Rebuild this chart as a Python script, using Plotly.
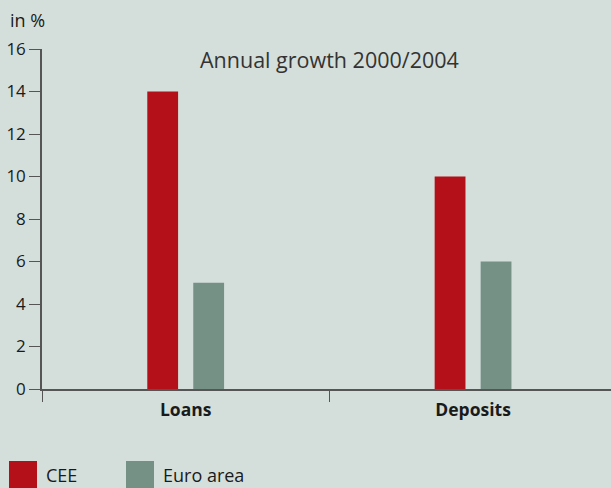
import plotly.graph_objects as go

categories = ["Loans", "Deposits"]
series_names = ["CEE", "Euro area"]
cee_values = [14, 10]
euro_values = [5, 6]
series_colors = ["#b31019", "#759186"]
y_ticks = [0, 2, 4, 6, 8, 10, 12, 14, 16]

BG = "#d4dfdb"
FONT = "Open Sans, Noto Sans, sans-serif"
TEXT = "#1a1a1a"

fig = go.Figure()
for name, vals, col in zip(series_names, [cee_values, euro_values], series_colors):
    fig.add_trace(go.Bar(x=categories, y=vals, name=name, marker=dict(color=col, line=dict(width=0)),
                         showlegend=False))

fig.update_layout(
    width=611, height=488,
    margin=dict(l=42, r=0, t=49, b=99),
    paper_bgcolor=BG, plot_bgcolor=BG,
    barmode="group", bargap=0.68, bargroupgap=0.33,
    font=dict(family=FONT, color=TEXT, size=16),
)
fig.update_xaxes(
    range=[-0.5, 1.48],
    showline=True, linecolor="#555555", linewidth=1.5,
    ticks="outside", tickson="boundaries", ticklen=11, tickcolor="#555555", tickwidth=1,
    tickfont=dict(family=FONT, size=17.5, color=TEXT, weight="bold"),
    ticklabelstandoff=4,
    showgrid=False, zeroline=False,
)
fig.update_yaxes(
    range=[0, 16], tickvals=y_ticks,
    showline=True, linecolor="#555555", linewidth=1.5,
    ticks="outside", ticklen=11, tickcolor="#555555", tickwidth=1,
    tickfont=dict(family=FONT, size=17, color=TEXT),
    showgrid=False, zeroline=False,
)

fig.add_annotation(text="in %", xref="paper", yref="paper", x=(8 - 42) / 569, y=(389 - 20) / 340,
                   xanchor="left", yanchor="middle", showarrow=False,
                   font=dict(family=FONT, size=18, color=TEXT))
fig.add_annotation(text="Annual growth 2000/2004", xref="x", yref="y", x=0.5, y=15.5,
                   xanchor="center", yanchor="middle", showarrow=False,
                   font=dict(family=FONT, size=21.5, color="#333333"))

# legend swatches drawn below the plot area
legend_x = [9, 126]
for i, (name, col) in enumerate(zip(series_names, series_colors)):
    x0 = legend_x[i]
    fig.add_shape(type="rect", xref="paper", yref="paper",
                  x0=(x0 - 42) / 569, x1=(x0 + 28 - 42) / 569,
                  y0=(389 - 489) / 340, y1=(389 - 461) / 340,
                  fillcolor=col, line=dict(width=0))
    fig.add_annotation(text=name, xref="paper", yref="paper",
                       x=(x0 + 36 - 42) / 569, y=(389 - 475) / 340,
                       xanchor="left", yanchor="middle", showarrow=False,
                       borderpad=0,
                       font=dict(family=FONT, size=18, color=TEXT))

fig.write_html("out.html")
